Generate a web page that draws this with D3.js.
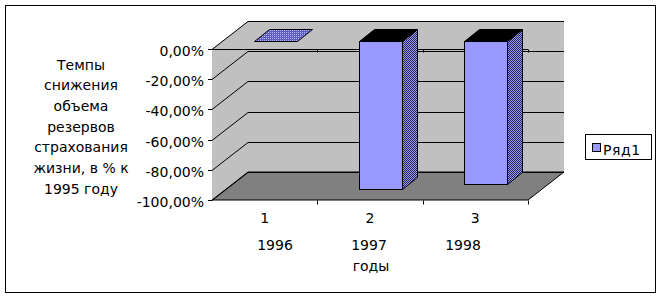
<!DOCTYPE html>
<html><head><meta charset="utf-8">
<script src="https://cdn.jsdelivr.net/npm/d3@7"></script>
<style>
html,body{margin:0;padding:0;background:#fff;}
svg text{font-family:"DejaVu Sans",sans-serif;fill:#000;}
</style></head>
<body>
<svg id="c" width="662" height="298"></svg>
<script>
// ---- data ----
const categories = ["1", "2", "3"];
const values = [0, -0.98, -0.95];
const seriesName = "Ряд1";
const yearLabels = ["1996", "1997", "1998"];
const xAxisTitle = "годы";
const yTitleLines = ["Темпы", "снижения", "объема", "резервов", "страхования", "жизни, в % к", "1995 году"];
const yTickValues = [0, -0.2, -0.4, -0.6, -0.8, -1];

// ---- layout ----
const svg = d3.select("#c");
const L = 212, R = 528, T = 49, B = 200;
const DX = 36, DY = -28;          // full depth offset
const f1 = 0.29, f2 = 0.71;       // bar depth fractions
const x = d3.scaleBand().domain(categories).range([L, R]).padding(0);
const y = d3.scaleLinear().domain([-1, 0]).range([B, T]);
const barW = x.bandwidth() * 0.41;
const fmt = d3.formatLocale({decimal: ",", thousands: " ", grouping: [3], currency: ["", ""], minus: "-"}).format(".2%");

const defs = svg.append("defs");
const p1 = defs.append("pattern").attr("id", "side").attr("width", 2).attr("height", 2).attr("patternUnits", "userSpaceOnUse");
p1.append("rect").attr("width", 2).attr("height", 2).attr("fill", "#9999ff");
p1.append("rect").attr("width", 1).attr("height", 1).attr("fill", "#26264d");
p1.append("rect").attr("x", 1).attr("y", 1).attr("width", 1).attr("height", 1).attr("fill", "#26264d");
const p2 = defs.append("pattern").attr("id", "dots").attr("width", 2).attr("height", 2).attr("patternUnits", "userSpaceOnUse");
p2.append("rect").attr("width", 2).attr("height", 2).attr("fill", "#5f5fbf");
p2.append("rect").attr("width", 1).attr("height", 1).attr("fill", "#b0b0ff");

// outer border
svg.append("rect").attr("x", 5.5).attr("y", 5.5).attr("width", 650).attr("height", 287)
  .attr("fill", "#fff").attr("stroke", "#000");

const pts = a => a.map(p => p.join(",")).join(" ");
// left wall
svg.append("polygon").attr("points", pts([[L, T], [L + DX, T + DY], [L + DX, B + DY], [L, B]])).attr("fill", "#c0c0c0");
// back wall
svg.append("polygon").attr("points", pts([[L + DX, T + DY], [R + DX, T + DY], [R + DX, B + DY], [L + DX, B + DY]])).attr("fill", "#c0c0c0");
// floor
svg.append("polygon").attr("points", pts([[L, B], [L + DX, B + DY], [R + DX, B + DY], [R, B]]))
  .attr("fill", "#808080").attr("stroke", "#000").attr("stroke-width", 1);

// gridlines on walls
const g = svg.append("g").attr("stroke", "#000").attr("stroke-width", 1);
yTickValues.forEach(v => {
  const yy = Math.round(y(v)) + 0.5;
  g.append("line").attr("x1", L + DX).attr("x2", R + DX).attr("y1", yy + DY).attr("y2", yy + DY);
  g.append("line").attr("x1", L).attr("x2", L + DX).attr("y1", yy).attr("y2", yy + DY);
  g.append("line").attr("x1", L - 4).attr("x2", L).attr("y1", yy).attr("y2", yy);
});
// front zero line with ticks
const zy = Math.round(y(0)) + 0.5;
g.append("line").attr("x1", L).attr("x2", R).attr("y1", zy).attr("y2", zy);
// bottom front edge ticks
const bounds = categories.map(c => x(c) + x.bandwidth());
bounds.forEach(bx => {
  const xx = Math.round(bx) + 0.5;
  g.append("line").attr("x1", xx).attr("x2", xx).attr("y1", zy).attr("y2", zy + 3);
  g.append("line").attr("x1", xx).attr("x2", xx).attr("y1", Math.round(y(-1)) + 0.5).attr("y2", Math.round(y(-1)) + 4.5);
});

// bars
const ddx = (f2 - f1) * DX, ddy = (f2 - f1) * DY;
const bars = svg.append("g");
values.forEach((v, i) => {
  const x0 = Math.round(x(categories[i]) + (x.bandwidth() - barW) / 2 + f1 * DX) + 0.5;
  const x1 = x0 + Math.round(barW);
  const yt = Math.round(y(0) + f1 * DY) + 0.5;
  const yb = Math.round(y(v) + f1 * DY) + 0.5;
  const gx = Math.round(ddx), gy = Math.round(ddy);
  if (yb > yt) {
    bars.append("polygon").attr("points", pts([[x1, yt], [x1 + gx, yt + gy], [x1 + gx, yb + gy], [x1, yb]]))
      .attr("fill", "url(#side)").attr("stroke", "#000");
    bars.append("rect").attr("x", x0).attr("y", yt).attr("width", x1 - x0).attr("height", yb - yt)
      .attr("fill", "#9999ff").attr("stroke", "#000");
  }
  bars.append("polygon").attr("points", pts([[x0, yt], [x0 + gx, yt + gy], [x1 + gx, yt + gy], [x1, yt]]))
    .attr("fill", yb > yt ? "#000" : "url(#dots)").attr("stroke", "#000");
});

// y tick labels
svg.append("g").selectAll("text").data(yTickValues).join("text")
  .attr("x", 204).attr("y", d => y(d) + 7).attr("text-anchor", "end")
  .style("font-size", "14px").text(d => fmt(d));

// category labels
svg.append("g").selectAll("text").data(categories).join("text")
  .attr("x", d => x(d) + x.bandwidth() / 2).attr("y", 223).attr("text-anchor", "middle")
  .style("font-size", "14px").text(d => d);

// x axis title (years + "годы")
svg.append("g").selectAll("text").data(yearLabels).join("text")
  .attr("x", (d, i) => 369 + (i - 1) * 94).attr("y", 250).attr("text-anchor", "middle")
  .style("font-size", "14px").text(d => d);
svg.append("text").attr("x", 371).attr("y", 271).attr("text-anchor", "middle")
  .style("font-size", "14px").text(xAxisTitle);

// y axis title
svg.append("g").selectAll("text").data(yTitleLines).join("text")
  .attr("x", 81).attr("y", (d, i) => 69.5 + i * 20.7).attr("text-anchor", "middle")
  .style("font-size", "14px").text(d => d);

// legend
svg.append("rect").attr("x", 585.5).attr("y", 134.5).attr("width", 66).attr("height", 25)
  .attr("fill", "#fff").attr("stroke", "#000");
svg.append("rect").attr("x", 592.5).attr("y", 143.5).attr("width", 8).attr("height", 8)
  .attr("fill", "#9999ff").attr("stroke", "#000");
svg.append("text").attr("x", 603).attr("y", 155).style("font-size", "14px").style("letter-spacing", "0.6px").text(seriesName);
</script>
</body></html>
